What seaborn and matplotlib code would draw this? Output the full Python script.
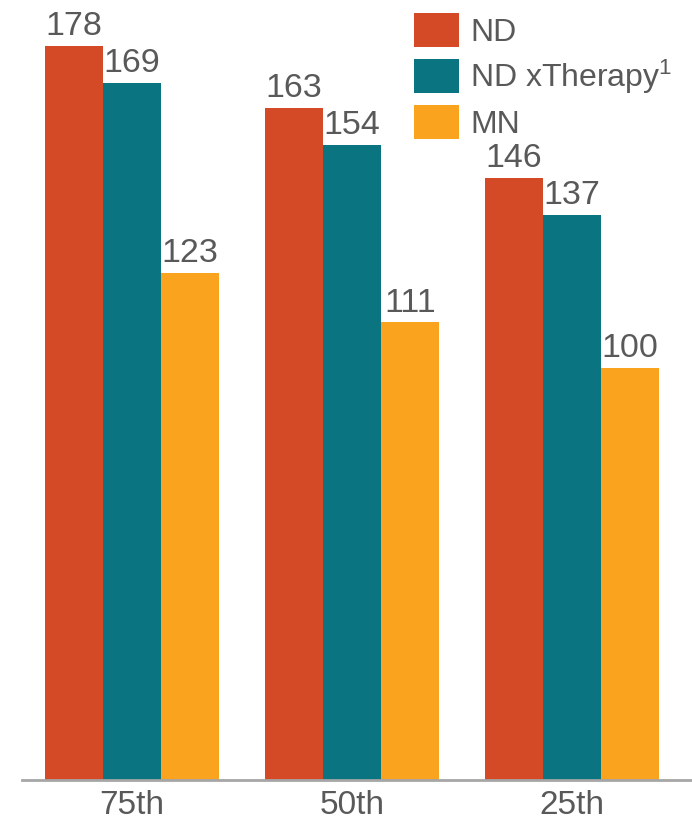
import matplotlib
matplotlib.use("Agg")
import matplotlib.pyplot as plt
import seaborn as sns
import pandas as pd

percentiles = ["75th", "50th", "25th"]
series_names = ["ND", "ND xTherapy$^{1}$", "MN"]
nd_values = [178, 163, 146]
nd_xtherapy_values = [169, 154, 137]
mn_values = [123, 111, 100]
series_colors = ["#D44A27", "#0A7480", "#F9A31F"]

rows = []
for name, vals in zip(series_names, [nd_values, nd_xtherapy_values, mn_values]):
    for p, v in zip(percentiles, vals):
        rows.append({"percentile": p, "series": name, "value": v})
df = pd.DataFrame(rows)

sns.set_theme(style="white")
plt.rcParams["font.family"] = ["Liberation Sans", "DejaVu Sans"]
plt.rcParams["mathtext.fontset"] = "custom"
plt.rcParams["mathtext.rm"] = "Liberation Sans"
plt.rcParams["mathtext.default"] = "regular"
text_color = "#595959"

W, H = 692, 822
fig = plt.figure(figsize=(W / 100, H / 100), dpi=100)
ax = fig.add_axes([22 / W, 42 / H, (W - 22) / W, 780 / H])

sns.barplot(data=df, x="percentile", y="value", hue="series",
            order=percentiles, hue_order=series_names,
            palette=series_colors, width=0.791, saturation=1,
            edgecolor="none", linewidth=0, ax=ax)

ax.set_xlim(-0.5, 2.545)
ax.set_ylim(0, 189.1)

for container in ax.containers:
    ax.bar_label(container, labels=[f"{v:.0f}" for v in container.datavalues],
                 padding=2.5, fontsize=24.5, color=text_color)

ax.set_xlabel("")
ax.set_ylabel("")
ax.set_yticks([])
ax.tick_params(axis="x", length=0, labelsize=24, labelcolor=text_color, pad=7)

for side in ["top", "right", "left"]:
    ax.spines[side].set_visible(False)
ax.spines["bottom"].set_color("#A6A6A6")
ax.spines["bottom"].set_linewidth(2)

handles, labels = ax.get_legend_handles_labels()
ax.legend(handles, labels, loc="upper left",
          bbox_to_anchor=(414 / W, 1 - 13 / H), bbox_transform=fig.transFigure,
          frameon=False, fontsize=23, handlelength=1.41, handleheight=1.262,
          labelspacing=0.30, handletextpad=0.34, borderpad=0, borderaxespad=0,
          labelcolor=text_color)

fig.savefig("out.png", dpi=100)
